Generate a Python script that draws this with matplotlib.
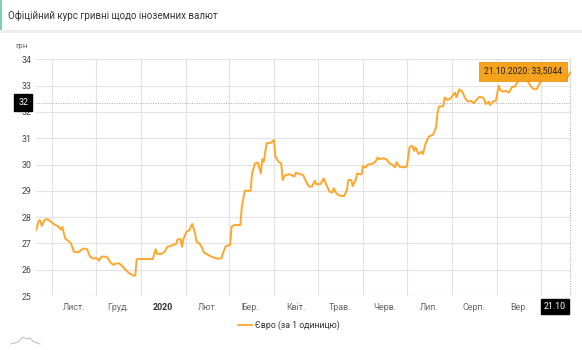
import matplotlib.pyplot as plt
import pandas as pd
from matplotlib.patches import Rectangle
from matplotlib.lines import Line2D

plt.rcParams['font.family'] = ['Roboto', 'DejaVu Sans']

OUTPUT_FILE = 'out.png'
W, H = 582, 350

# Офіційний курс євро, грн за 1 одиницю
dates = [
    '2019-10-21', '2019-10-23', '2019-10-24', '2019-10-25', '2019-10-27', '2019-10-29',
    '2019-11-01', '2019-11-03', '2019-11-05', '2019-11-07', '2019-11-08', '2019-11-10',
    '2019-11-12', '2019-11-14', '2019-11-16', '2019-11-19', '2019-11-21', '2019-11-23',
    '2019-11-25', '2019-11-27', '2019-11-29', '2019-12-02', '2019-12-03', '2019-12-05',
    '2019-12-07', '2019-12-09', '2019-12-11', '2019-12-13', '2019-12-15', '2019-12-17',
    '2019-12-19', '2019-12-22', '2019-12-24', '2019-12-27', '2019-12-28', '2019-12-29',
    '2020-01-02', '2020-01-09', '2020-01-11', '2020-01-12', '2020-01-15', '2020-01-17',
    '2020-01-19', '2020-01-22', '2020-01-25', '2020-01-26', '2020-01-28', '2020-01-29',
    '2020-01-30', '2020-02-01', '2020-02-03', '2020-02-05', '2020-02-07', '2020-02-08',
    '2020-02-10', '2020-02-12', '2020-02-13', '2020-02-16', '2020-02-18', '2020-02-20',
    '2020-02-22', '2020-02-25', '2020-02-26', '2020-02-28', '2020-03-02', '2020-03-03',
    '2020-03-05', '2020-03-09', '2020-03-10', '2020-03-12', '2020-03-16', '2020-03-17',
    '2020-03-19', '2020-03-21', '2020-03-23', '2020-03-24', '2020-03-25', '2020-03-27',
    '2020-03-30', '2020-04-01', '2020-04-02', '2020-04-04', '2020-04-06', '2020-04-07',
    '2020-04-08', '2020-04-11', '2020-04-13', '2020-04-15', '2020-04-16', '2020-04-19',
    '2020-04-21', '2020-04-23', '2020-04-25', '2020-04-27', '2020-04-29', '2020-04-30',
    '2020-05-03', '2020-05-05', '2020-05-07', '2020-05-09', '2020-05-11', '2020-05-12',
    '2020-05-14', '2020-05-17', '2020-05-19', '2020-05-21', '2020-05-22', '2020-05-24',
    '2020-05-25', '2020-05-27', '2020-05-28', '2020-05-31', '2020-06-01', '2020-06-03',
    '2020-06-04', '2020-06-08', '2020-06-10', '2020-06-11', '2020-06-12', '2020-06-15',
    '2020-06-17', '2020-06-19', '2020-06-21', '2020-06-23', '2020-06-24', '2020-06-26',
    '2020-06-29', '2020-07-01', '2020-07-03', '2020-07-05', '2020-07-06', '2020-07-07',
    '2020-07-09', '2020-07-11', '2020-07-12', '2020-07-14', '2020-07-16', '2020-07-19',
    '2020-07-21', '2020-07-22', '2020-07-23', '2020-07-26', '2020-07-27', '2020-07-29',
    '2020-07-31', '2020-08-03', '2020-08-04', '2020-08-06', '2020-08-08', '2020-08-10',
    '2020-08-12', '2020-08-14', '2020-08-16', '2020-08-18', '2020-08-20', '2020-08-22',
    '2020-08-23', '2020-08-24', '2020-08-26', '2020-08-27', '2020-08-29', '2020-08-31',
    '2020-09-02', '2020-09-03', '2020-09-05', '2020-09-07', '2020-09-09', '2020-09-11',
    '2020-09-13', '2020-09-15', '2020-09-19', '2020-09-22', '2020-09-25', '2020-09-27',
    '2020-09-28', '2020-09-30', '2020-10-02', '2020-10-06', '2020-10-09', '2020-10-13',
    '2020-10-16', '2020-10-19', '2020-10-21',
]
rates = [
    27.50, 27.88, 27.86, 27.66, 27.90, 27.92,
    27.79, 27.70, 27.66, 27.53, 27.63, 27.19,
    27.10, 27.00, 26.68, 26.66, 26.75, 26.81,
    26.78, 26.50, 26.43, 26.43, 26.34, 26.50,
    26.50, 26.46, 26.27, 26.18, 26.24, 26.24,
    26.14, 25.96, 25.86, 25.77, 25.78, 26.40,
    26.41, 26.40, 26.78, 26.60, 26.60, 26.68,
    26.87, 26.92, 26.98, 27.16, 27.16, 26.87,
    27.16, 27.44, 27.50, 27.74, 27.38, 27.06,
    27.00, 26.81, 26.65, 26.56, 26.50, 26.46,
    26.42, 26.43, 26.62, 26.90, 26.94, 27.64,
    27.70, 27.70, 28.40, 29.00, 29.00, 29.66,
    30.04, 30.07, 29.66, 30.20, 30.11, 30.81,
    30.83, 30.93, 30.30, 30.11, 30.04, 29.41,
    29.56, 29.63, 29.60, 29.54, 29.69, 29.63,
    29.60, 29.35, 29.16, 29.16, 29.38, 29.25,
    29.26, 29.47, 29.22, 28.97, 28.93, 29.10,
    28.88, 28.80, 28.80, 29.03, 29.41, 29.41,
    29.18, 29.41, 29.66, 29.62, 29.94, 29.89,
    29.99, 30.04, 30.14, 30.27, 30.20, 30.24,
    30.20, 30.05, 30.00, 29.89, 30.09, 29.92,
    29.89, 29.92, 30.68, 30.70, 30.52, 30.65,
    30.40, 30.49, 30.40, 30.81, 31.06, 31.13,
    31.40, 31.94, 32.20, 32.22, 32.55, 32.45,
    32.52, 32.73, 32.55, 32.86, 32.77, 32.52,
    32.39, 32.42, 32.33, 32.48, 32.58, 32.55,
    32.48, 32.30, 32.39, 32.26, 32.39, 32.42,
    33.00, 32.83, 32.77, 32.80, 32.73, 32.94,
    32.96, 33.15, 33.28, 33.15, 32.90, 32.86,
    32.87, 33.09, 33.28, 33.40, 33.45, 33.35,
    33.18, 33.30, 33.5044,
]

month_starts = pd.date_range('2019-11-01', '2020-10-01', freq='MS')
month_labels = ['Лист.', 'Груд.', '2020', 'Лют.', 'Бер.', 'Квіт.', 'Трав.',
                'Черв.', 'Лип.', 'Серп.', 'Вер.']
y_ticks = [25, 26, 27, 28, 29, 30, 31, 32, 33, 34]

cursor_rate = 32.35
cursor_label = '32'
last_label = '21.10'
series_name = 'Євро (за 1 одиницю)'

LINE_COLOR = '#FFA62B'
GRID_COLOR = '#E3E3E3'


def main():
    df = pd.DataFrame({'date': pd.to_datetime(dates), 'rate': rates})
    last = df.iloc[-1]
    # labels sit in the middle of each full month
    month_mids = month_starts[:-1] + pd.Timedelta(days=15)

    fig = plt.figure(figsize=(W / 100, H / 100), dpi=100)
    ax = fig.add_axes([36 / W, 1 - 296 / H, 535 / W, (296 - 59.3) / H])

    # Header strip
    fig.add_artist(Rectangle((0, 1 - 30 / H), 2 / W, 30 / H, transform=fig.transFigure,
                             facecolor='#7FD1AE', edgecolor='none'))
    fig.add_artist(Rectangle((0, 1 - 32.5 / H), 1, 3 / H, transform=fig.transFigure,
                             facecolor='#EDEDED', edgecolor='none'))
    fig.text(8 / W, 1 - 16 / H, 'Офіційний курс гривні щодо іноземних валют',
             fontsize=7, color='#333333', va='center', ha='left')

    ax.plot(df['date'], df['rate'], color=LINE_COLOR, lw=1.4, zorder=3,
            solid_joinstyle='round', label=series_name)

    ax.set_ylim(25, 34)
    ax.set_xlim(df['date'].iloc[0], last['date'] + pd.Timedelta(hours=12))
    ax.set_yticks(y_ticks)
    ax.set_xticks(month_starts)
    ax.set_xticklabels([])
    ax.set_xticks(month_mids, minor=True)
    ax.set_xticklabels(month_labels, minor=True)
    ax.tick_params(axis='x', which='both', length=0, pad=5, labelsize=6.4, labelcolor='#666666')
    ax.tick_params(axis='y', length=0, pad=3, labelsize=6.3, labelcolor='#444444')
    for lbl in ax.get_xticklabels(minor=True):
        if lbl.get_text() == '2020':
            lbl.set_fontweight('bold')
            lbl.set_color('#333333')

    ax.grid(True, which='major', color=GRID_COLOR, lw=0.8)
    for s in ax.spines.values():
        s.set_visible(False)

    fig.text(22 / W, 1 - 46 / H, 'грн', fontsize=5.8, color='#666666', ha='center', va='center')

    # Crosshair
    ax.axhline(cursor_rate, color='#AAAAAA', lw=0.7, ls=(0, (1, 1.5)), zorder=2)
    ax.axvline(last['date'], color='#AAAAAA', lw=0.7, ls=(0, (1, 1.5)), zorder=2)
    fig.text(23 / W, 1 - 102.5 / H, cursor_label, fontsize=6.3, color='white',
             ha='center', va='center', zorder=5,
             bbox=dict(boxstyle='square,pad=0.5', facecolor='black', edgecolor='black'))
    fig.text(555 / W, 1 - 306.5 / H, last_label, fontsize=6.3, color='white',
             ha='center', va='center', zorder=5,
             bbox=dict(boxstyle='square,pad=0.35', facecolor='black', edgecolor='black'))

    # Tooltip for the last point
    value_text = f"{last['date']:%d.%m.%Y}: " + f"{last['rate']:.4f}".replace('.', ',')
    ax.annotate(value_text, xy=(last['date'], last['rate']), xytext=(-47, 1),
                textcoords='offset pixels', ha='center', va='center', fontsize=6.2,
                color='#222222', zorder=6,
                bbox=dict(boxstyle='square,pad=0.55', facecolor='#F7A21B',
                          edgecolor='#E8961A', lw=0.6))

    # Legend
    fig.legend(handles=[Line2D([], [], color=LINE_COLOR, lw=1.3)], labels=[series_name],
               loc='center', bbox_to_anchor=(289 / W, 1 - 325 / H), frameon=False,
               fontsize=6.3, handlelength=1.6, handletextpad=0.3, labelcolor='#333333')

    # Small gray icon in the bottom-left corner
    icon = Line2D([11 / W, 18 / W, 23 / W, 27 / W, 30 / W, 34 / W, 40 / W],
                  [1 - 344 / H, 1 - 342 / H, 1 - 337 / H, 1 - 339 / H, 1 - 338 / H,
                   1 - 342 / H, 1 - 344 / H],
                  transform=fig.transFigure, color='#BBBBBB', lw=0.7)
    fig.add_artist(icon)

    fig.savefig(OUTPUT_FILE, dpi=100)


if __name__ == "__main__":
    main()
